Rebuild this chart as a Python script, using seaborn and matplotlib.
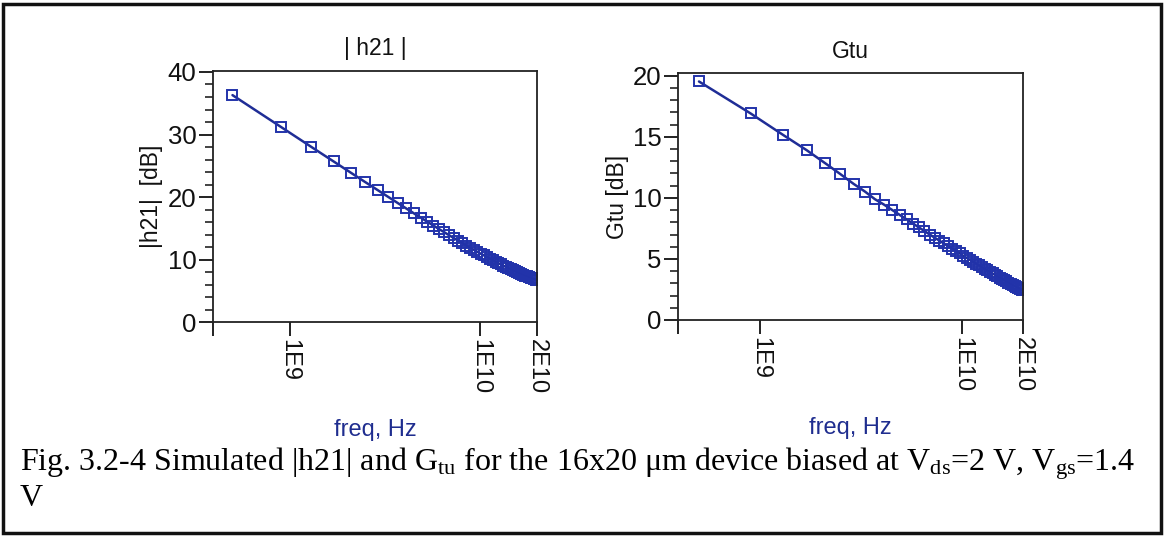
import matplotlib
matplotlib.use("Agg")
import matplotlib.pyplot as plt
import seaborn as sns
import pandas as pd
from matplotlib.patches import Rectangle

# ---- data ----
freq_ghz = [0.5, 0.9, 1.3, 1.7, 2.1, 2.5, 2.9, 3.3, 3.7, 4.1,
            4.5, 4.9, 5.3, 5.7, 6.1, 6.5, 6.9, 7.3, 7.7, 8.1,
            8.5, 8.9, 9.3, 9.7, 10.1, 10.5, 10.9, 11.3, 11.7, 12.1,
            12.5, 12.9, 13.3, 13.7, 14.1, 14.5, 14.9, 15.3, 15.7, 16.1,
            16.5, 16.9, 17.3, 17.7, 18.1, 18.5, 18.9, 19.3, 19.7, 20.0]

h21_db = [36.30, 31.21, 28.02, 25.71, 23.89, 22.39, 21.13, 20.03, 19.06, 18.19,
          17.41, 16.71, 16.06, 15.46, 14.90, 14.39, 13.91, 13.46, 13.04, 12.65,
          12.27, 11.92, 11.59, 11.27, 10.97, 10.70, 10.42, 10.17, 9.92, 9.68,
          9.46, 9.26, 9.05, 8.85, 8.68, 8.50, 8.34, 8.18, 8.02, 7.87,
          7.73, 7.60, 7.47, 7.35, 7.24, 7.13, 7.02, 6.92, 6.83, 6.76]

gtu_db = [19.53, 16.91, 15.16, 13.91, 12.84, 11.94, 11.15, 10.52, 9.89, 9.45,
          9.01, 8.61, 8.24, 7.90, 7.58, 7.28, 7.00, 6.74, 6.50, 6.27,
          6.05, 5.84, 5.64, 5.45, 5.26, 5.09, 4.93, 4.77, 4.61, 4.47,
          4.33, 4.19, 4.06, 3.93, 3.81, 3.69, 3.58, 3.47, 3.37, 3.26,
          3.16, 3.07, 2.97, 2.88, 2.80, 2.71, 2.63, 2.55, 2.47, 2.42]

x_ticks = [1e9, 1e10, 2e10]
x_tick_labels = ["1E9", "1E10", "2E10"]
titles = ["| h21 |", "Gtu"]
ylabels = ["|h21|  [dB]", "Gtu [dB]"]
xlabel = "freq, Hz"
caption_1 = r"Fig. 3.2-4 Simulated |h21| and G$_{\rm tu}$ for the 16x20 $\rm\mu$m device biased at V$_{\rm ds}$=2 V, V$_{\rm gs}$=1.4"
caption_2 = "V"

df = pd.DataFrame({"freq": [f * 1e9 for f in freq_ghz], "h21": h21_db, "gtu": gtu_db})

sns.set_style("ticks")
plt.rcParams["font.family"] = ["Liberation Sans", "DejaVu Sans"]
plt.rcParams["mathtext.fontset"] = "custom"
plt.rcParams["mathtext.rm"] = "Liberation Serif"
plt.rcParams["mathtext.it"] = "Liberation Serif:italic"
plt.rcParams["text.color"] = "#111111"
plt.rcParams["xtick.color"] = "#111111"
plt.rcParams["ytick.color"] = "#111111"
plt.rcParams["axes.labelcolor"] = "#111111"

line_col = "#1f2d96"
label_col = "#1f2d8f"

fig = plt.figure(figsize=(11.66, 5.37), dpi=100)
ax1 = fig.add_axes([0.1827, 0.3998, 0.2779, 0.4685])
ax2 = fig.add_axes([0.5817, 0.4041, 0.2959, 0.4594])

specs = [
    (ax1, "h21", (0, 40.2), [0, 10, 20, 30, 40], 2),
    (ax2, "gtu", (0, 20.2), [0, 5, 10, 15, 20], 1),
]
xmin, xmax = 3.95e8, 2.0e10

for i, (ax, col, ylim, yt, ystep) in enumerate(specs):
    sns.lineplot(data=df, x="freq", y=col, ax=ax, color=line_col, lw=1.8,
                 marker="s", markersize=6.5, markerfacecolor="none",
                 markeredgecolor="#2233aa", markeredgewidth=1.4)
    ax.set_xscale("log")
    ax.set_xlim(xmin, xmax)
    ax.set_ylim(*ylim)
    ax.set_xticks([xmin] + x_ticks)
    ax.set_xticklabels([""] + x_tick_labels, rotation=270, fontsize=17)
    ax.xaxis.set_minor_locator(matplotlib.ticker.NullLocator())
    ax.set_yticks(yt)
    ax.set_yticklabels([str(v) for v in yt], fontsize=18.5)
    minors = [v for v in range(0, int(ylim[1]) + 1, ystep) if v not in yt]
    ax.set_yticks(minors, minor=True)
    ax.tick_params(axis="both", which="major", length=10, width=1.3, direction="out", pad=2)
    ax.tick_params(axis="y", which="minor", length=6, width=1.1, direction="out")
    ax.set_title(titles[i], fontsize=16.5, pad=11)
    ax.set_ylabel(ylabels[i], fontsize=16.5, labelpad=3)
    ax.set_xlabel(xlabel, fontsize=17, color=label_col, labelpad=18)
    for s in ax.spines.values():
        s.set_linewidth(1.3)
        s.set_color("#222222")

serif = ["Liberation Serif", "DejaVu Serif"]
fig.text(0.0172, 0.124, caption_1, fontsize=23, family=serif, va="baseline", color="black")
fig.text(0.0172, 0.058, caption_2, fontsize=23, family=serif, va="baseline", color="black")

fig.patches.append(Rectangle((0.003, 0.007), 0.993, 0.985, transform=fig.transFigure,
                             fill=False, edgecolor="#111111", lw=2.5))

fig.savefig("out.png", dpi=100)
